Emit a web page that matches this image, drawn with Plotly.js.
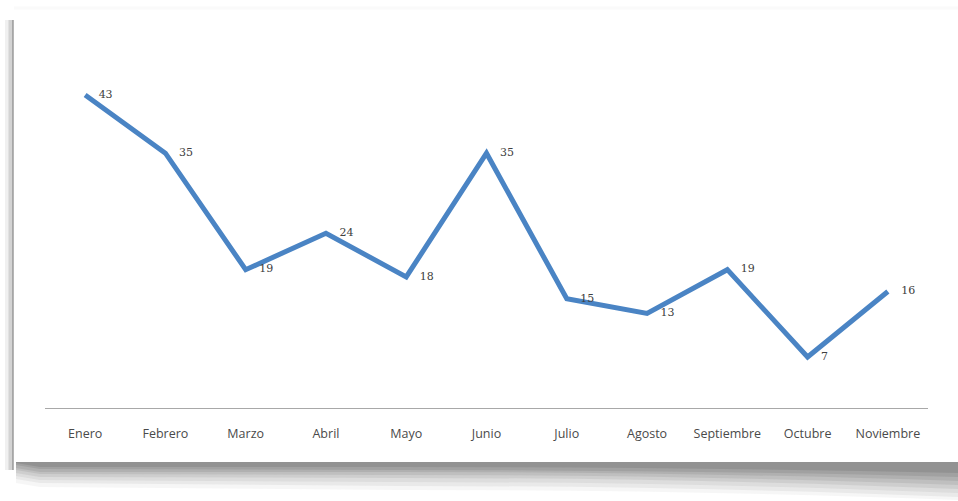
<!DOCTYPE html>
<html>
<head>
<meta charset="utf-8">
<script src="https://cdn.plot.ly/plotly-3.0.1.min.js"></script>
<style>html,body{margin:0;padding:0;background:#fff;}#chart{width:958px;height:501px;}</style>
</head>
<body>
<div id="chart"></div>
<script>
const months = ["Enero","Febrero","Marzo","Abril","Mayo","Junio","Julio","Agosto","Septiembre","Octubre","Noviembre"];
const values = [43,35,19,24,18,35,15,13,19,7,16];

const W = 958, H = 501;
const L = 45, R = 30, T = 44, B = 93;
const pw = W - L - R, ph = H - T - B;
function px(x){ return (x - L) / pw; }
function py(y){ return (H - B - y) / ph; }

const shapes = [];
// left frame edge (soft gray)
[[9,0.10,8],[11,0.22,5],[13,0.45,2]].forEach(function(s){
  shapes.push({type:'line', xref:'paper', yref:'paper', x0:px(s[0]), x1:px(s[0]), y0:py(20), y1:py(470),
    line:{color:'rgba(110,110,110,'+s[1]+')', width:s[2]}, layer:'below'});
});
// top faint edge
shapes.push({type:'line', xref:'paper', yref:'paper', x0:px(14), x1:px(958), y0:py(8), y1:py(8),
  line:{color:'rgba(220,220,220,0.15)', width:3}, layer:'below'});
// bottom shadow layers: [opacity, yLeft, yMid, yRight]
const shadow = [
  [0.06, 487, 490, 500],
  [0.08, 483, 486, 497],
  [0.09, 480, 482, 493],
  [0.11, 477, 478, 489],
  [0.13, 474, 475, 485],
  [0.15, 472, 472, 481],
  [0.18, 469, 470, 477],
  [0.22, 467, 467, 473]
];
shadow.forEach(function(s){
  const op = s[0], yl = s[1], ym = s[2], yr = s[3];
  const p = 'M '+px(16)+' '+py(462)+' L '+px(958)+' '+py(462)+' L '+px(958)+' '+py(yr)+
    ' Q '+px(700)+' '+py(ym)+' '+px(400)+' '+py(ym)+' L '+px(40)+' '+py(yl)+' L '+px(16)+' '+py(yl-4)+' Z';
  shapes.push({type:'path', xref:'paper', yref:'paper', path:p, fillcolor:'rgba(95,95,95,'+op+')', line:{width:0}, layer:'below'});
});

const trace = {
  x: months,
  y: values,
  text: values.map(String),
  type: 'scatter',
  mode: 'lines+markers+text',
  line: {color:'#4a84c4', width:5},
  marker: {size:20, color:'rgba(0,0,0,0)'},
  textposition: 'middle right',
  textfont: {family:'DejaVu Serif, serif', size:11, color:'#404040'},
  hoverinfo:'skip',
  cliponaxis:false
};

const layout = {
  width: W, height: H,
  margin: {l:L, r:R, t:T, b:B},
  paper_bgcolor:'#ffffff',
  plot_bgcolor:'rgba(0,0,0,0)',
  showlegend:false,
  xaxis: {
    type:'category',
    range:[-0.5, months.length - 0.5],
    showline:true, linecolor:'#a8a8a8', linewidth:1,
    showgrid:false, zeroline:false, ticks:'',
    ticklabelstandoff: 14,
    tickfont:{family:'Open Sans, sans-serif', size:12.5, color:'#4a4a4a'},
    fixedrange:true
  },
  yaxis: {
    range:[0,50], visible:false, showgrid:false, zeroline:false, fixedrange:true
  },
  shapes: shapes
};

Plotly.newPlot('chart', [trace], layout, {displayModeBar:false, staticPlot:true});
</script>
</body>
</html>
